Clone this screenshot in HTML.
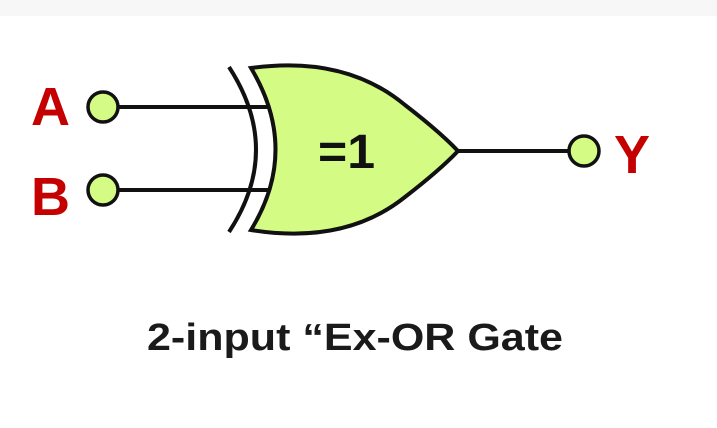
<!DOCTYPE html>
<html><head><meta charset="utf-8"><style>
html,body{margin:0;padding:0;background:#fff;}
svg{display:block;}
</style></head><body>
<svg width="717" height="428" viewBox="0 0 717 428" xmlns="http://www.w3.org/2000/svg">
<rect x="0" y="0" width="717" height="16" fill="#f7f7f7"/>
<g stroke="#111" stroke-width="4" fill="none">
<line x1="103" y1="107" x2="272" y2="107"/>
<line x1="103" y1="190" x2="272" y2="190"/>
<line x1="458" y1="151" x2="584" y2="151"/>
<path d="M229 67 Q283 150 229 232"/>
</g>
<path d="M251 68 Q345 55 405 105 Q440 132 458 151 Q440 170 405 197 Q345 245 251 230 Q300 150 251 68 Z" fill="#d4fb84" stroke="#111" stroke-width="4"/>
<g fill="#d4fb84" stroke="#111" stroke-width="3.5">
<circle cx="103" cy="107" r="15"/>
<circle cx="103" cy="190" r="15"/>
<circle cx="584" cy="151" r="15"/>
</g>
<g font-family="Liberation Sans, sans-serif" font-weight="bold" fill="#c40000">
<text x="31" y="125" font-size="54">A</text>
<text x="31" y="215" font-size="54">B</text>
<text x="614" y="173" font-size="54">Y</text>
</g>
<text x="318" y="168" font-family="Liberation Sans, sans-serif" font-weight="bold" font-size="48" fill="#111" textLength="57" lengthAdjust="spacingAndGlyphs">=1</text>
<text x="147" y="350" font-family="Liberation Sans, sans-serif" font-weight="bold" font-size="38" fill="#1a1a1a" textLength="416" lengthAdjust="spacingAndGlyphs">2-input “Ex-OR Gate</text>
</svg>
</body></html>
